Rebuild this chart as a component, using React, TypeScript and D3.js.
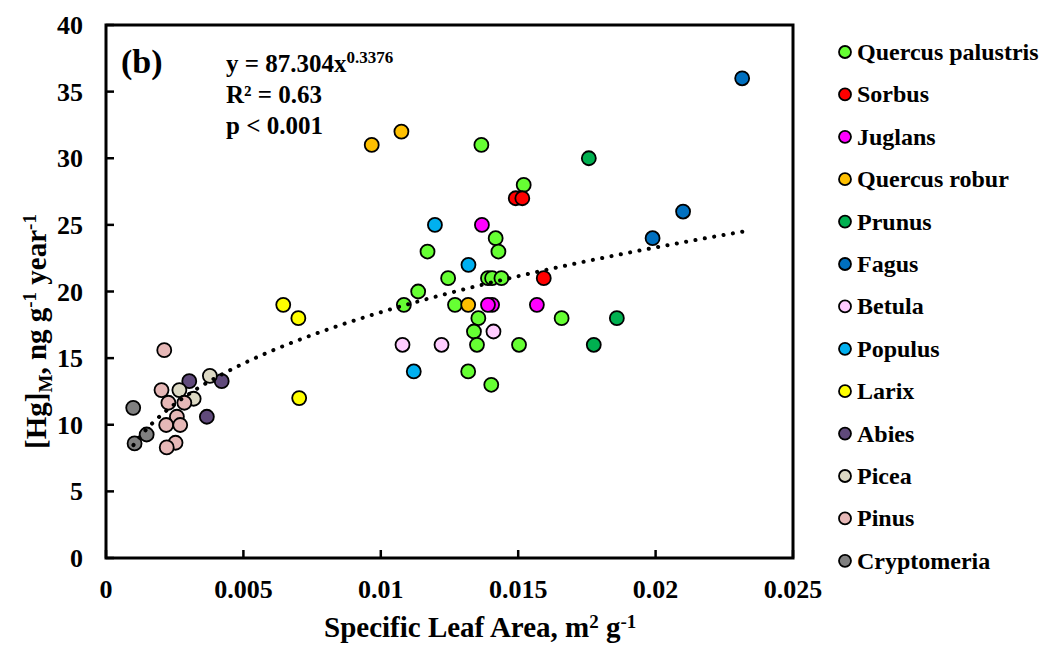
import React from "react";
import * as d3 from "d3";

const species = ["Quercus palustris","Sorbus","Juglans","Quercus robur","Prunus","Fagus","Betula","Populus","Larix","Abies","Picea","Pinus","Cryptomeria"];
const colors = ["#66FF33","#FF0000","#FF00FF","#FFC000","#00B050","#0070C0","#FFCCFF","#00B0F0","#FFFF00","#604A7B","#DDD9C4","#E6B8B7","#808080"];

const quercusPalustris: [number, number][] = [[0.01366,31],[0.0152,28],[0.01418,24],[0.0117,23],[0.01428,23],[0.01245,21],[0.0139,21],[0.01405,21],[0.01439,21],[0.01136,20],[0.01084,19],[0.0127,19],[0.01355,18],[0.01658,18],[0.01339,17],[0.0135,16],[0.01503,16],[0.01318,14],[0.01402,13]];
const sorbus: [number, number][] = [[0.01491,27],[0.01515,27],[0.01593,21]];
const juglans: [number, number][] = [[0.01368,25],[0.01405,19],[0.0139,19],[0.01568,19]];
const quercusRobur: [number, number][] = [[0.00967,31],[0.01075,32],[0.01318,19]];
const prunus: [number, number][] = [[0.01757,30],[0.01859,18],[0.01775,16]];
const fagus: [number, number][] = [[0.02315,36],[0.021,26],[0.01989,24]];
const betula: [number, number][] = [[0.01079,16],[0.01221,16],[0.0141,17]];
const populus: [number, number][] = [[0.01197,25],[0.01319,22],[0.0112,14]];
const larix: [number, number][] = [[0.00645,19],[0.007,18],[0.00703,12]];
const abies: [number, number][] = [[0.00303,13.27],[0.00421,13.27],[0.00367,10.6]];
const picea: [number, number][] = [[0.00378,13.67],[0.00267,12.6],[0.00319,11.95]];
const pinus: [number, number][] = [[0.00212,15.6],[0.00202,12.6],[0.00227,11.65],[0.00285,11.65],[0.00258,10.6],[0.00219,9.98],[0.0027,9.98],[0.00253,8.65],[0.00221,8.3]];
const cryptomeria: [number, number][] = [[0.00099,11.27],[0.00148,9.27],[0.00104,8.6]];

const seriesData = [quercusPalustris,sorbus,juglans,quercusRobur,prunus,fagus,betula,populus,larix,abies,picea,pinus,cryptomeria];

const xTicks = [0, 0.005, 0.01, 0.015, 0.02, 0.025];
const xTickLabels = ["0","0.005","0.01","0.015","0.02","0.025"];
const yTicks = [0,5,10,15,20,25,30,35,40];

const fitA = 87.304;
const fitB = 0.3376;
const fitRange = [0.001, 0.0232];

export default function App() {
  const W = 1041, H = 646;
  const L = 106, R = 793, T = 25, B = 558;
  const x = d3.scaleLinear().domain([0, 0.025]).range([L, R]);
  const y = d3.scaleLinear().domain([0, 40]).range([B, T]);
  const font = "'Liberation Serif', 'Times New Roman', serif";

  const fitPts = d3.range(0, 201).map(i => {
    const xv = fitRange[0] + (fitRange[1] - fitRange[0]) * i / 200;
    return [xv, fitA * Math.pow(xv, fitB)] as [number, number];
  });
  const line = d3.line<[number, number]>().x(d => x(d[0])).y(d => y(d[1]));

  const legX = 845, legY0 = 52, legDy = 42.4;

  return (
    <svg width={W} height={H} style={{ position: "absolute", left: 0, top: 0, background: "#fff" }} fontFamily={font} fontWeight="bold">
      <rect x={0} y={0} width={W} height={H} fill="#fff" />
      {/* frame */}
      <rect x={L} y={T} width={R - L} height={B - T} fill="none" stroke="#000" strokeWidth={3} />
      {/* ticks */}
      {xTicks.map((t, i) => (
        <g key={"xt" + i}>
          <line x1={x(t)} x2={x(t)} y1={B} y2={B - 8} stroke="#000" strokeWidth={2.5} />
          <text x={x(t)} y={B + 40} fontSize={26} textAnchor="middle">{xTickLabels[i]}</text>
        </g>
      ))}
      {yTicks.map((t, i) => (
        <g key={"yt" + i}>
          <line x1={L} x2={L + 8} y1={y(t)} y2={y(t)} stroke="#000" strokeWidth={2.5} />
          <text x={83} y={y(t) + 9} fontSize={26} textAnchor="end">{t}</text>
        </g>
      ))}
      {/* points */}
      {seriesData.map((pts, si) => (
        <g key={"s" + si}>
          {pts.map((p, pi) => (
            <circle key={pi} cx={x(p[0])} cy={y(p[1])} r={7} fill={colors[si]} stroke="#000" strokeWidth={1.8} />
          ))}
        </g>
      ))}
      {/* trend line */}
      <path d={line(fitPts) || ""} fill="none" stroke="#000" strokeWidth={4} strokeDasharray="0.1 9.4" strokeLinecap="round" />
      {/* annotations */}
      <text x={121} y={73} fontSize={34}>(b)</text>
      <text x={226} y={72} fontSize={25}>y = 87.304x<tspan fontSize={17} dy={-9}>0.3376</tspan></text>
      <text x={226} y={103} fontSize={25}>R² = 0.63</text>
      <text x={226} y={134} fontSize={25}>p &lt; 0.001</text>
      {/* axis titles */}
      <text x={324} y={637} fontSize={29}>
        Specific Leaf Area, m<tspan fontSize={19} dy={-9}>2</tspan><tspan dy={9}> g</tspan><tspan fontSize={19} dy={-9}>-1</tspan>
      </text>
      <text transform={`translate(46, ${(T + B) / 2 + 40}) rotate(-90)`} fontSize={29} textAnchor="middle">
        [Hg]<tspan fontSize={19} dy={6}>M</tspan><tspan dy={-6}>, ng g</tspan><tspan fontSize={19} dy={-10}>-1</tspan><tspan dy={10}> year</tspan><tspan fontSize={19} dy={-10}>-1</tspan>
      </text>
      {/* legend */}
      {species.map((s, i) => (
        <g key={"l" + i}>
          <circle cx={legX} cy={legY0 + i * legDy} r={6} fill={colors[i]} stroke="#000" strokeWidth={1.8} />
          <text x={857} y={legY0 + i * legDy + 8} fontSize={24}>{s}</text>
        </g>
      ))}
    </svg>
  );
}
